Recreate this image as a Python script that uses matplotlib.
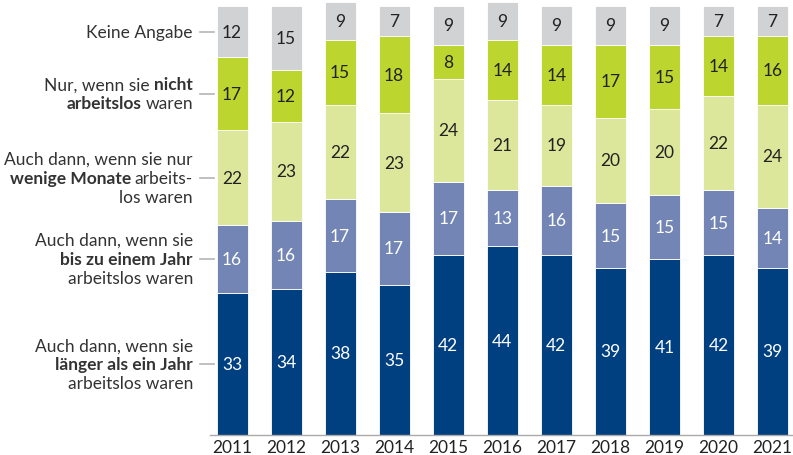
import numpy as np
import matplotlib.pyplot as plt

years = ["2011", "2012", "2013", "2014", "2015", "2016",
         "2017", "2018", "2019", "2020", "2021"]

laenger_jahr = [33, 34, 38, 35, 42, 44, 42, 39, 41, 42, 39]
bis_jahr = [16, 16, 17, 17, 17, 13, 16, 15, 15, 15, 14]
wenige_monate = [22, 23, 22, 23, 24, 21, 19, 20, 20, 22, 24]
nicht_arbeitslos = [17, 12, 15, 18, 8, 14, 14, 17, 15, 14, 16]
keine_angabe = [12, 15, 9, 7, 9, 9, 9, 9, 9, 7, 7]

series = [laenger_jahr, bis_jahr, wenige_monate, nicht_arbeitslos, keine_angabe]
colors = ["#003f80", "#7285b5", "#dde79b", "#bdd62f", "#d1d2d4"]
text_colors = ["white", "white", "#222222", "#222222", "#222222"]

# label lines, each a list of (text, bold) pieces
labels = [
    [[("Auch dann, wenn sie", False)],
     [("länger als ein Jahr", True)],
     [("arbeitslos waren", False)]],
    [[("Auch dann, wenn sie", False)],
     [("bis zu einem Jahr", True)],
     [("arbeitslos waren", False)]],
    [[("Auch dann, wenn sie nur", False)],
     [("wenige Monate", True), ("arbeits-", False)],
     [("los waren", False)]],
    [[("Nur, wenn sie", False), ("nicht", True)],
     [("arbeitslos", True), ("waren", False)]],
    [[("Keine Angabe", False)]],
]

plt.rcParams["font.family"] = ["Lato", "DejaVu Sans"]
W, H = 793, 456
fig = plt.figure(figsize=(W / 100, H / 100), dpi=100)
ax = fig.add_axes([210 / W, 20 / H, 583 / W, 429 / H])

x = np.arange(len(years))
width = 31 / 54
bottom = np.zeros(len(years))
for vals, c, tc in zip(series, colors, text_colors):
    vals = np.array(vals)
    ax.bar(x, vals, width, bottom=bottom, color=c, edgecolor="white",
           linewidth=0.6, clip_on=False)
    for xi, b, v in zip(x, bottom, vals):
        ax.text(xi, b + v / 2, str(v), ha="center", va="center",
                fontsize=12.5, color=tc)
    bottom += vals

ax.set_xlim(-22 / 54, 10 + 20.5 / 54)
ax.set_ylim(0, 100)
ax.set_yticks([])
ax.set_xticks(x)
ax.set_xticklabels(years, fontsize=12.5, color="#222222")
ax.tick_params(axis="x", length=0, pad=3)
for s in ["top", "right", "left"]:
    ax.spines[s].set_visible(False)
ax.spines["bottom"].set_color("#aaaaaa")
ax.spines["bottom"].set_linewidth(1)

# category labels left of the first bar
fig.canvas.draw()
renderer = fig.canvas.get_renderer()


def text_width(s, bold):
    t = fig.text(0, 0, s, fontsize=12.5, weight="bold" if bold else "normal")
    w = t.get_window_extent(renderer).width
    t.remove()
    return w


space = 4
line_h = 19
x_right = 193
cum = 0
for vals, lines in zip(series, labels):
    v = vals[0]
    yc = ax.transData.transform((0, cum + v / 2))[1]
    cum += v
    fig.add_artist(plt.Line2D([200 / W, 214 / W], [yc / H, yc / H],
                              color="#b5b5b5", lw=1.2))
    n = len(lines)
    for i, pieces in enumerate(lines):
        y = yc + ((n - 1) / 2 - i) * line_h
        xr = x_right
        for s, bold in reversed(pieces):
            fig.text(xr / W, y / H, s, ha="right", va="center", fontsize=12.5,
                     color="#333333", weight="bold" if bold else "normal")
            xr -= text_width(s, bold) + space

fig.savefig("out.png", dpi=100)
